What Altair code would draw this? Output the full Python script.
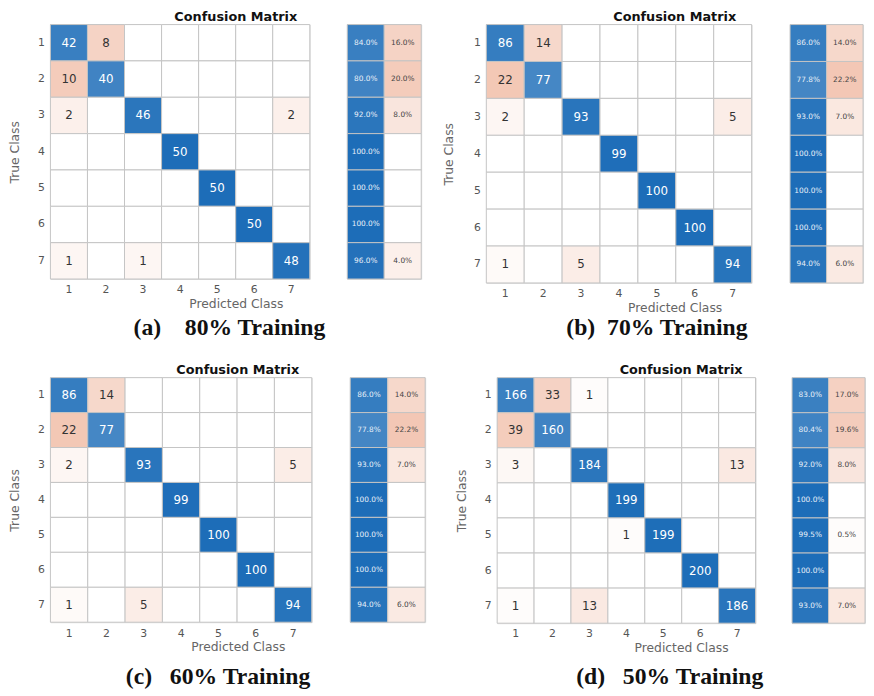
import altair as alt
import pandas as pd

classes = [1, 2, 3, 4, 5, 6, 7]

cm_a = [[42, 8, 0, 0, 0, 0, 0],
        [10, 40, 0, 0, 0, 0, 0],
        [2, 0, 46, 0, 0, 0, 2],
        [0, 0, 0, 50, 0, 0, 0],
        [0, 0, 0, 0, 50, 0, 0],
        [0, 0, 0, 0, 0, 50, 0],
        [1, 0, 1, 0, 0, 0, 48]]
cm_b = [[86, 14, 0, 0, 0, 0, 0],
        [22, 77, 0, 0, 0, 0, 0],
        [2, 0, 93, 0, 0, 0, 5],
        [0, 0, 0, 99, 0, 0, 0],
        [0, 0, 0, 0, 100, 0, 0],
        [0, 0, 0, 0, 0, 100, 0],
        [1, 0, 5, 0, 0, 0, 94]]
cm_c = [[86, 14, 0, 0, 0, 0, 0],
        [22, 77, 0, 0, 0, 0, 0],
        [2, 0, 93, 0, 0, 0, 5],
        [0, 0, 0, 99, 0, 0, 0],
        [0, 0, 0, 0, 100, 0, 0],
        [0, 0, 0, 0, 0, 100, 0],
        [1, 0, 5, 0, 0, 0, 94]]
cm_d = [[166, 33, 1, 0, 0, 0, 0],
        [39, 160, 0, 0, 0, 0, 0],
        [3, 0, 184, 0, 0, 0, 13],
        [0, 0, 0, 199, 0, 0, 0],
        [0, 0, 0, 1, 199, 0, 0],
        [0, 0, 0, 0, 0, 200, 0],
        [1, 0, 13, 0, 0, 0, 186]]

ok_a = [84.0, 80.0, 92.0, 100.0, 100.0, 100.0, 96.0]
err_a = [16.0, 20.0, 8.0, 0.0, 0.0, 0.0, 4.0]
ok_b = [86.0, 77.8, 93.0, 100.0, 100.0, 100.0, 94.0]
err_b = [14.0, 22.2, 7.0, 0.0, 0.0, 0.0, 6.0]
ok_c = [86.0, 77.8, 93.0, 100.0, 100.0, 100.0, 94.0]
err_c = [14.0, 22.2, 7.0, 0.0, 0.0, 0.0, 6.0]
ok_d = [83.0, 80.4, 92.0, 100.0, 99.5, 100.0, 93.0]
err_d = [17.0, 19.6, 8.0, 0.0, 0.5, 0.0, 7.0]

captions = ["(a)\u00a0\u00a0\u00a0\u00a080% Training",
            "(b)\u00a0\u00a070% Training",
            "(c)\u00a0\u00a0\u00a060% Training",
            "(d)\u00a0\u00a0\u00a050% Training"]

SANS = "DejaVu Sans"
SERIF = "Liberation Serif"
cscale = alt.Scale(domain=[-1, 0, 1], range=["#d9531a", "#ffffff", "#1d6db8"],
                   type="pow", exponent=0.75, interpolate="rgb")


def matrix(cm, w, h, tpad, toff, sp, sw):
    rows = []
    for i, r in enumerate(cm):
        for j, v in enumerate(r):
            rows.append({"t": classes[i], "p": classes[j], "v": v})
    df = pd.DataFrame(rows)
    base = alt.Chart(df).transform_joinaggregate(vmax="max(v)").transform_calculate(
        k="(datum.t == datum.p ? 1 : -1) * datum.v / datum.vmax")
    x = alt.X("p:O", title="Predicted Class", axis=alt.Axis(labelAngle=0, ticks=False, domain=False,
              labelPadding=5, labelColor="#555", labelFontSize=11, labelFont=SANS,
              titleFont=SANS, titleFontSize=12.5, titleFontWeight="normal",
              titleColor="#666", titlePadding=3, titleX=(w + sp + sw) / 2))
    y = alt.Y("t:O", title="True Class", axis=alt.Axis(ticks=False, domain=False,
              labelPadding=6, labelColor="#555", labelFontSize=11, labelFont=SANS,
              titleFont=SANS, titleFontSize=12.5, titleFontWeight="normal",
              titleColor="#666", titlePadding=tpad))
    rect = base.mark_rect(stroke="#c4c4c4", strokeWidth=1).encode(
        x=x, y=y, color=alt.Color("k:Q", scale=cscale, legend=None))
    text = base.transform_filter("datum.v > 0").mark_text(font=SANS, fontSize=12).encode(
        x=x, y=y, text="v:Q",
        color=alt.condition("datum.t == datum.p", alt.value("#ffffff"), alt.value("#333333")))
    return alt.layer(rect, text).properties(
        width=w, height=h,
        title=alt.TitleParams("Confusion Matrix", anchor="middle", frame="group", font=SANS,
                              fontSize=13, fontWeight="bold", color="#111111", offset=toff,
                              dx=(sp + sw) / 2))


def summary(ok, err, w, h, caption, cdx, coff):
    rows = []
    for i in range(7):
        rows.append({"t": classes[i], "c": "a", "pct": ok[i], "s": 1})
        rows.append({"t": classes[i], "c": "b", "pct": err[i], "s": -1})
    df = pd.DataFrame(rows)
    base = alt.Chart(df).transform_calculate(
        k="datum.s * datum.pct / 100",
        lab="format(datum.pct, '.1f') + '%'")
    x = alt.X("c:O", axis=None)
    y = alt.Y("t:O", axis=None)
    rect = base.mark_rect(stroke="#c4c4c4", strokeWidth=1).encode(
        x=x, y=y, color=alt.Color("k:Q", scale=cscale, legend=None))
    text = base.transform_filter("datum.pct > 0").mark_text(font=SANS, fontSize=7.5).encode(
        x=x, y=y, text="lab:N",
        color=alt.condition("datum.s > 0", alt.value("#e8f0f8"), alt.value("#444444")))
    return alt.layer(rect, text).properties(
        width=w, height=h,
        title=alt.TitleParams(caption, orient="bottom", anchor="middle", frame="group",
                              font=SERIF, fontSize=24, fontWeight="bold", color="#111111",
                              offset=coff, dx=cdx))


def panel(cm, ok, err, caption, mw, mh, sw, sp, tpad, toff, cdx, coff):
    return alt.hconcat(matrix(cm, mw, mh, tpad, toff, sp, sw),
                       summary(ok, err, sw, mh, caption, cdx, coff),
                       spacing=sp, bounds="flush")


pa = panel(cm_a, ok_a, err_a, captions[0], 263, 258, 75, 38, 16, 0, -157, 37)
pb = panel(cm_b, ok_b, err_b, captions[1], 269, 262, 74, 39, 18, 0, -172, 33)
pc = panel(cm_c, ok_c, err_c, captions[2], 265, 248, 76, 39, 16, 0, -172, 43)
pd_ = panel(cm_d, ok_d, err_d, captions[3], 262, 249, 74, 37, 16, 0, -161, 42)

row1 = alt.hconcat(pa, pb, spacing=20)
row2 = alt.hconcat(pc, pd_, spacing=29)
chart = alt.vconcat(row1, row2, spacing=24).properties(
    padding={"top": -2, "left": 0, "right": 0, "bottom": 0}).configure_view(
    stroke="#aaaaaa", strokeWidth=1).configure(background="white")

chart.save("out.html", embed_options={"renderer": "svg", "actions": False})
